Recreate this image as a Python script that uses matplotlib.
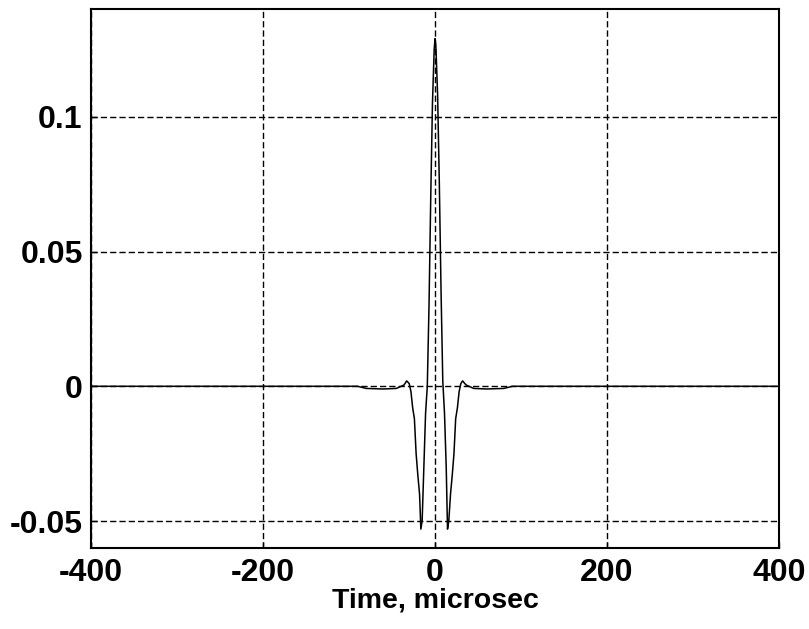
import matplotlib
matplotlib.use("Agg")
import matplotlib.pyplot as plt

# pulse response (time in microsec)
time_us = [-400, -90, -80, -60, -45, -36, -33, -30, -28, -26, -24, -22, -20, -18,
           -16.5, -15, -13, -11, -9, -7, -5, -3, -1, 0, 1, 3, 5, 7, 9, 11, 13,
           14.5, 16, 18, 20, 22, 24, 26, 28, 30, 32, 36, 45, 60, 80, 90, 400]
amplitude = [0, 0, -0.0008, -0.001, -0.0008, 0.0005, 0.002, 0.001, -0.002, -0.008,
             -0.012, -0.025, -0.033, -0.040, -0.053, -0.050, -0.030, -0.010, 0.0,
             0.03, 0.07, 0.105, 0.125, 0.129, 0.126, 0.108, 0.075, 0.035, 0.002,
             -0.010, -0.030, -0.053, -0.050, -0.040, -0.033, -0.025, -0.012, -0.008,
             -0.002, 0.001, 0.002, 0.0005, -0.0008, -0.001, -0.0008, 0, 0]

x_ticks = [-400, -200, 0, 200, 400]
x_labels = ["-400", "-200", "0", "200", "400"]
y_ticks = [-0.05, 0, 0.05, 0.1]
y_labels = ["-0.05", "0", "0.05", "0.1"]

plt.rcParams['font.family'] = ['Liberation Sans', 'DejaVu Sans']

fig = plt.figure(figsize=(8.09, 6.29), dpi=100)
ax = fig.add_axes([0.1125, 0.1288, 0.8505, 0.8569])

ax.plot(time_us, amplitude, color='black', linewidth=1.1)

ax.set_xlim(-400, 400)
ax.set_ylim(-0.06, 0.14)
ax.set_xticks(x_ticks)
ax.set_xticklabels(x_labels)
ax.set_yticks(y_ticks)
ax.set_yticklabels(y_labels)

ax.grid(True, color='black', linestyle=(0, (4.5, 2.2)), linewidth=1.0)
ax.tick_params(direction='in', length=4, width=1, labelsize=23)
ax.tick_params(axis='y', pad=6)
ax.tick_params(axis='x', pad=7)
for lbl in ax.get_xticklabels() + ax.get_yticklabels():
    lbl.set_fontweight('bold')

for spine in ax.spines.values():
    spine.set_linewidth(1.5)

ax.set_xlabel("Time, microsec", fontsize=20.5, fontweight='bold', labelpad=0)

fig.savefig("out.png", dpi=100)
